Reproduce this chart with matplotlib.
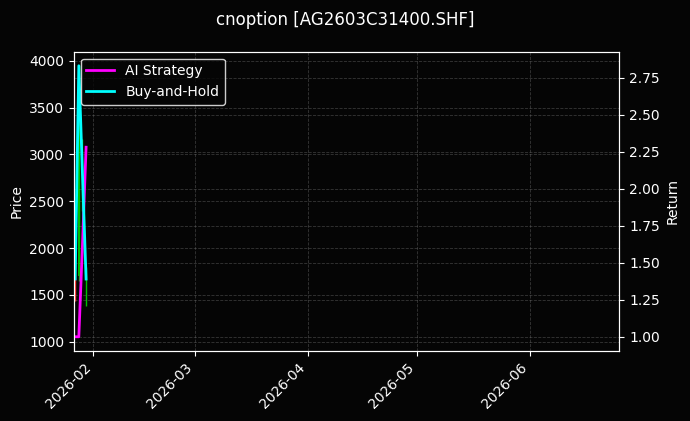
import matplotlib
matplotlib.use("Agg")
import matplotlib.pyplot as plt
import matplotlib.dates as mdates
import numpy as np
import pandas as pd

# ---- data ----
dates = ["2026-01-27", "2026-01-28", "2026-01-29", "2026-01-30"]
open_ = [2000, 1700, 2500, 1700]
high = [2010, 3950, 3160, 1800]
low = [1430, 1650, 2400, 1380]
close = [1600, 3500, 2900, 1750]
ai_strategy = [1.00, 1.00, 1.62, 2.28]
buy_hold = [1.39, 2.83, 2.10, 1.39]
title = "cnoption [AG2603C31400.SHF]"
x_range = ["2026-01-26 16:00", "2026-06-25 14:00"]

plt.style.use("dark_background")
fig = plt.figure(figsize=(6.9, 4.21), dpi=100, facecolor="#050505")
ax = fig.add_axes([0.1072, 0.167, 0.8975 - 0.1072, 0.8772 - 0.167])
ax.set_facecolor("#050505")

d = pd.to_datetime(dates)
o = np.array(open_); h = np.array(high); l = np.array(low); c = np.array(close)
cols = ["#00c000" if cc >= oo else "#ff3030" for oo, cc in zip(o, c)]
ax.vlines(d, l, h, colors=cols, linewidth=1)
ax.bar(d, np.abs(c - o), bottom=np.minimum(o, c), width=0.5, color=cols)

ax.set_ylabel("Price")
ax.set_ylim(904, 4096)
ax.grid(True, linestyle="--", color="gray", alpha=0.4, linewidth=0.6)

ax2 = ax.twinx()
l1, = ax2.plot(d, ai_strategy, color="#ff00ff", linewidth=2, label="AI Strategy")
l2, = ax2.plot(d, buy_hold, color="#00ffff", linewidth=2, label="Buy-and-Hold")
ax2.set_ylabel("Return")
ax2.set_ylim(0.906, 2.925)
ax2.grid(True, linestyle="--", color="gray", alpha=0.4, linewidth=0.6)

ax.set_xlim(pd.to_datetime(x_range[0]), pd.to_datetime(x_range[1]))
ax.xaxis.set_major_locator(mdates.MonthLocator())
ax.xaxis.set_major_formatter(mdates.DateFormatter("%Y-%m"))
plt.setp(ax.get_xticklabels(), rotation=45, ha="right")

ax2.legend(handles=[l1, l2], loc="upper left", facecolor="#050505", edgecolor="white")
fig.suptitle(title, fontsize=12, y=0.975)

fig.savefig("out.png", dpi=100, facecolor=fig.get_facecolor())
